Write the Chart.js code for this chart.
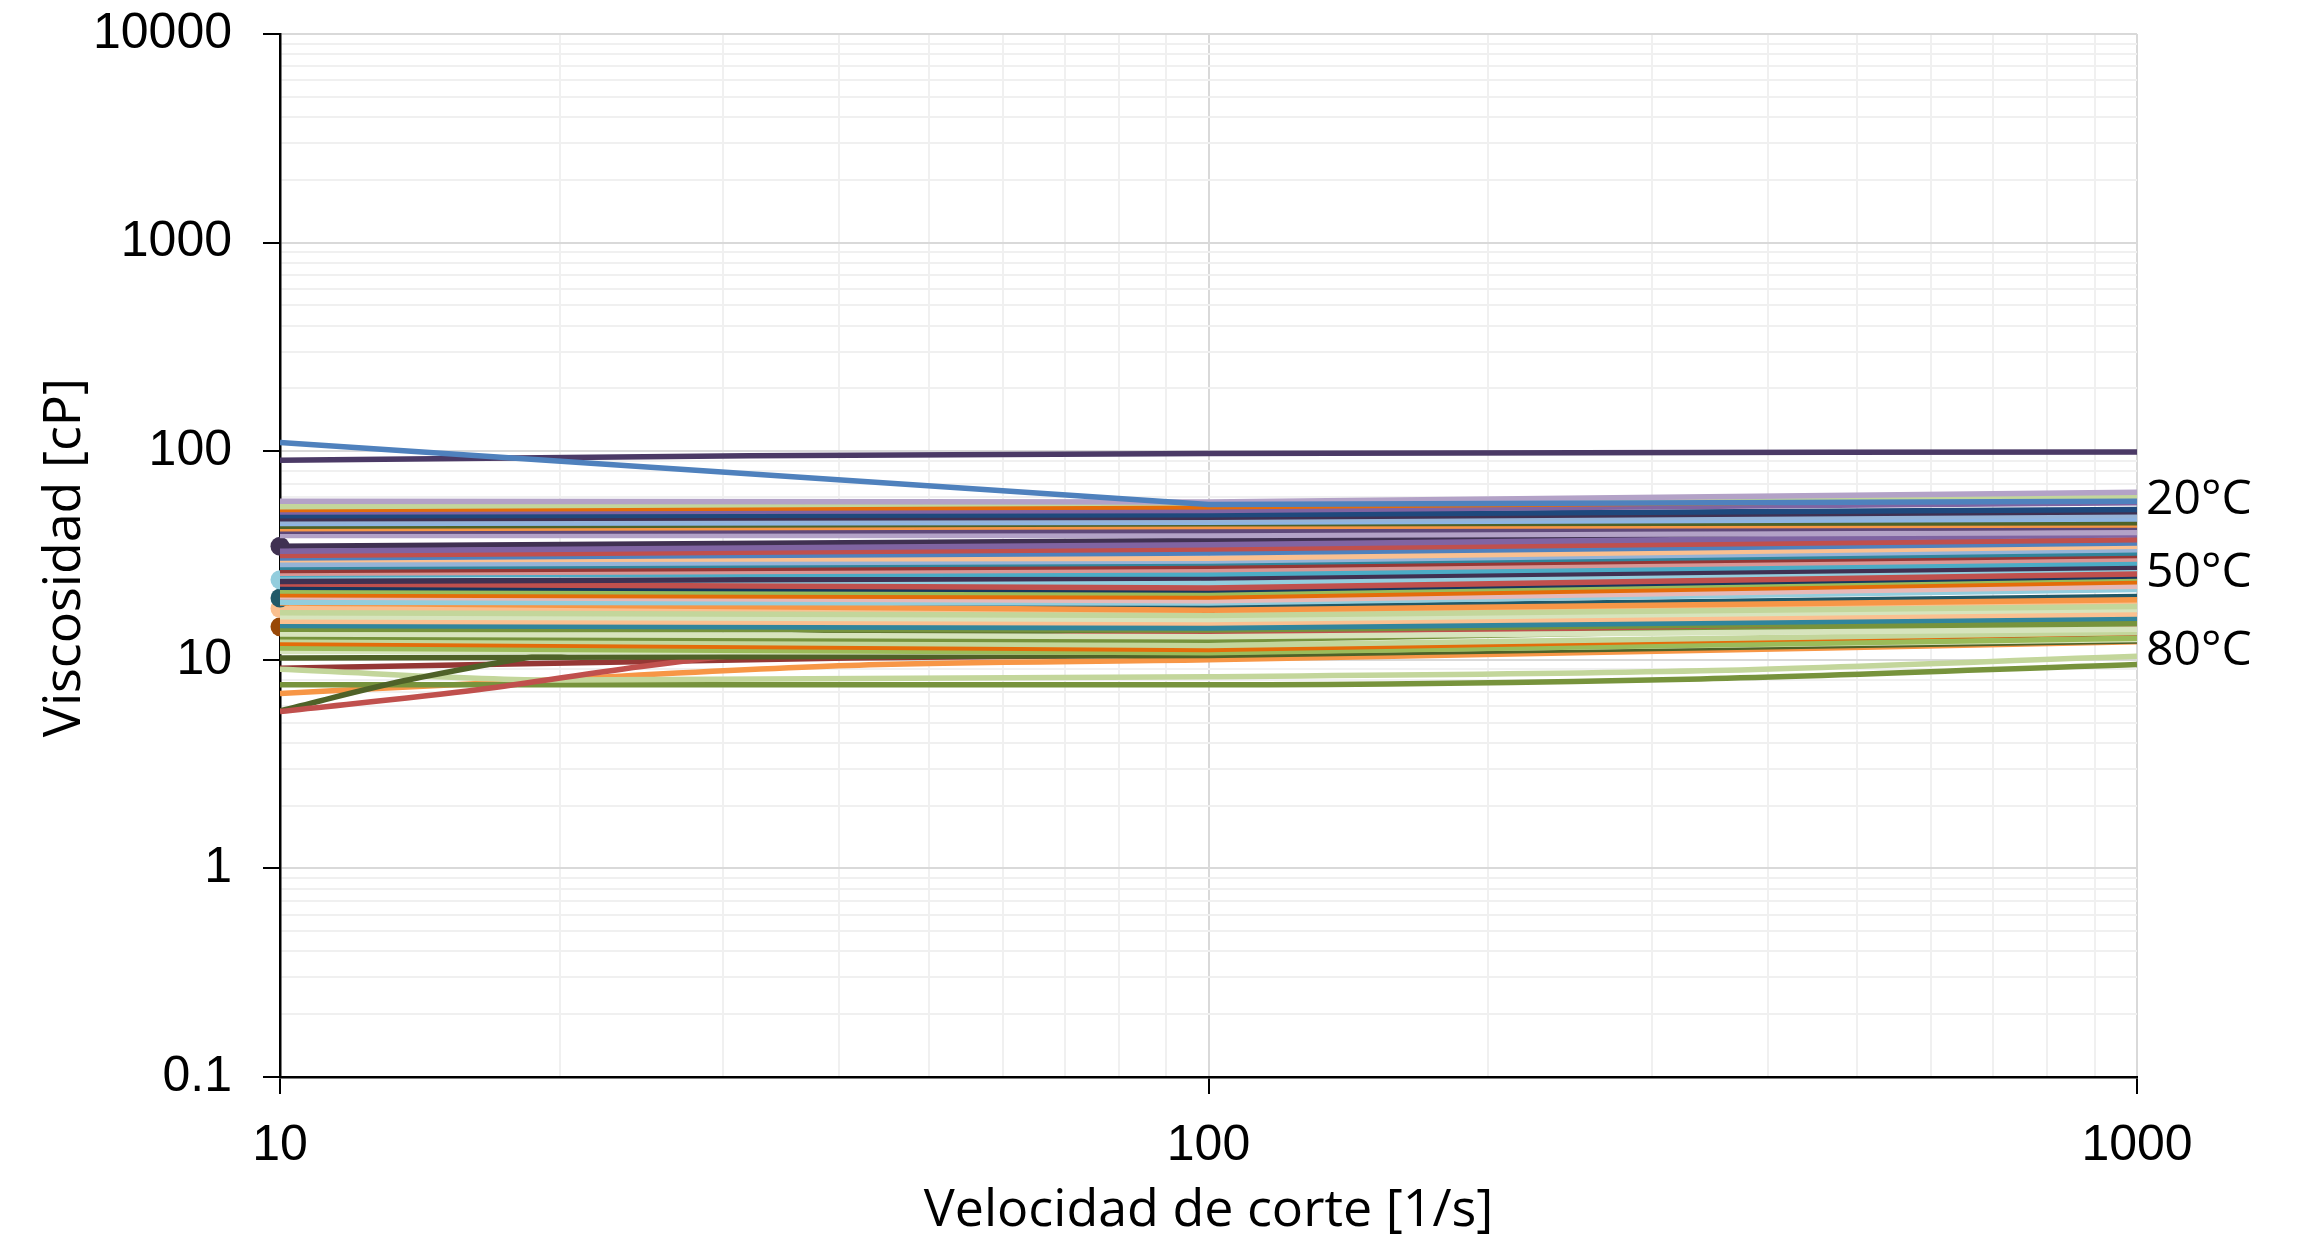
<!DOCTYPE html>
<html>
<head>
<meta charset="utf-8">
<title>Viscosidad vs velocidad de corte</title>
<script src="https://cdn.jsdelivr.net/npm/chart.js@4.4.1/dist/chart.umd.min.js"></script>
<style>
  html, body { margin: 0; padding: 0; background: #fff; }
  #wrap { width: 2306px; height: 1247px; }
</style>
</head>
<body>
<div id="wrap"><canvas id="viscChart" width="2306" height="1247"></canvas></div>
<script>
// shear rates [1/s] where the straight curves are read
const shearRates = [10, 100, 1000];

// viscosity [cP] per sample at 10, 100 and 1000 1/s
const viscAt10 = [57.5, 54.1, 52.5, 51.1, 49.0, 47.5, 46.1, 45.0, 43.7, 42.5, 41.3, 39.4,
  35.0, 33.1, 31.6, 30.8, 30.2, 28.6, 27.8, 26.8, 26.0, 25.6, 24.2, 23.75, 23.1, 22.3, 21.4,
  20.5, 20.0, 19.8, 18.9, 18.7, 17.6, 16.8, 16.1, 15.3, 14.4, 14.6, 14.0, 13.3, 12.9, 12.5,
  12.0, 11.4, 10.96, 10.2];
const viscAt100 = [57.0, 56.6, 54.1, 52.0, 49.6, 48.2, 46.9, 45.6, 44.9, 43.6, 41.7, 39.4,
  37.3, 35.6, 34.0, 32.5, 30.7, 29.8, 29.1, 28.1, 27.0, 25.8, 23.3, 24.7, 22.1, 21.6, 20.9,
  19.98, 19.2, 17.8, 18.7, 17.3, 16.9, 16.3, 15.6, 15.0, 14.6, 14.2, 13.9, 12.9, 12.4, 11.7,
  11.2, 10.8, 10.9, 10.5];
const viscAt1000 = [63.5, 60.8, 58.7, 56.6, 52.5, 51.2, 49.2, 47.3, 45.4, 44.3, 43.2, 40.8,
  41.7, 39.8, 37.6, 36.3, 35.0, 33.7, 32.5, 31.6, 30.4, 29.1, 26.8, 27.8, 25.8, 25.2, 24.7,
  23.7, 22.5, 20.1, 21.7, 19.4, 18.7, 18.0, 17.4, 16.6, 17.0, 15.8, 15.3, 14.0, 14.9, 13.5,
  13.5, 12.7, 12.5, 12.3];
const lineColors = ['#B3A2C7', '#C3D69B', '#E46C0A', '#8064A2', '#1F497D', '#403152', '#95B3D7',
  '#8EB4E3', '#4F6228', '#F79646', '#5F497A', '#B3A2C7', '#403152', '#8064A2', '#C0504D',
  '#4F81BD', '#FAC090', '#95B3D7', '#31859C', '#953735', '#D99694', '#4BACC6', '#93CDDD',
  '#403152', '#C0504D', '#17375E', '#9BBB59', '#E46C0A', '#E6B9B8', '#215968', '#93CDDD',
  '#F79646', '#FAC090', '#C3D69B', '#D7E4BD', '#FAC090', '#984807', '#31859C', '#77933C',
  '#D7E4BD', '#77933C', '#C3D69B', '#E46C0A', '#9BBB59', '#D7E4BD', '#4F6228'];
// samples plotted with round markers
const markedSamples = [12, 22, 29, 32, 36];

// curves that are not straight over the range
const blueRates = [10, 100, 1000];
const blueVisc = [110, 55.5, 57.5];
const purpleRates = [10, 32, 100, 1000];
const purpleVisc = [90.6, 95, 97.5, 99.2];
const redRates = [10, 16.4, 25, 41, 100, 1000];
const redVisc = [5.65, 7.2, 9.4, 11.8, 13.4, 14.6];
const darkOliveRates = [10, 14.1, 25, 100, 1000];
const darkOliveVisc = [5.7, 8.2, 12.1, 13.9, 15.5];
const paleGreenRates = [10, 20, 100, 339, 1000];
const paleGreenVisc = [9.0, 8.0, 8.3, 8.85, 10.4];
const oliveRates = [10, 100, 339, 1000];
const oliveVisc = [7.6, 7.6, 8.1, 9.5];
const orangeRates = [10, 16.4, 41, 100, 1000];
const orangeVisc = [6.9, 7.7, 9.4, 10.0, 12.2];
const darkRedRates = [10, 41, 100, 1000];
const darkRedVisc = [9.1, 10.2, 10.6, 13.0];

const yTickLabels = ['0.1', '1', '10', '100', '1000', '10000'];
const xTickLabels = ['10', '100', '1000'];
const tempLabels = ['20°C', '50°C', '80°C'];
const xTitle = 'Velocidad de corte [1/s]';
const yTitle = 'Viscosidad [cP]';

const datasets = [];

function addCurve(rates, visc, color, extra) {
  datasets.push(Object.assign({
    data: rates.map((r, i) => ({ x: r, y: visc[i] })),
    borderColor: color,
    backgroundColor: color,
    borderWidth: 5.5,
    pointRadius: 0,
    pointHoverRadius: 0,
    tension: 0,
    fill: false
  }, extra || {}));
}

const smooth = { cubicInterpolationMode: 'monotone' };

addCurve(blueRates, blueVisc, '#4F81BD');
addCurve(purpleRates, purpleVisc, '#4B3A66', smooth);

viscAt10.forEach((v, i) => {
  const vals = [v, viscAt100[i], viscAt1000[i]];
  if (markedSamples.includes(i)) {
    addCurve(shearRates, vals, lineColors[i], {
      pointRadius: [9.5, 8, 0], pointBorderWidth: 0, order: 1, clip: false
    });
  } else {
    addCurve(shearRates, vals, lineColors[i]);
  }
});

addCurve(redRates, redVisc, '#C0504D', smooth);
addCurve(darkOliveRates, darkOliveVisc, '#4F6228', smooth);
addCurve(paleGreenRates, paleGreenVisc, '#C3D69B', smooth);
addCurve(oliveRates, oliveVisc, '#77933C', smooth);
addCurve(orangeRates, orangeVisc, '#F79646', smooth);
addCurve(darkRedRates, darkRedVisc, '#953735', smooth);

// grid at 1..9 x 10^n
function logGrid(lo, hi) {
  const out = [];
  for (let e = lo; e < hi; e++) {
    for (let m = 1; m < 10; m++) out.push(Number((m * Math.pow(10, e)).toPrecision(6)));
  }
  out.push(Math.pow(10, hi));
  return out;
}
const isDecade = v => Math.abs(Math.log10(v) - Math.round(Math.log10(v))) < 1e-9;

const yGrid = logGrid(-1, 4);
const xGrid = logGrid(1, 3);

const tickFont = { family: '"Liberation Sans", Arial, sans-serif', size: 50 };

const axisText = {
  id: 'axisText',
  afterDraw(chart) {
    const { ctx, chartArea } = chart;
    ctx.save();
    ctx.fillStyle = '#000';
    ctx.font = '52px "Open Sans", sans-serif';
    ctx.textBaseline = 'alphabetic';
    ctx.textAlign = 'center';
    ctx.fillText(xTitle, (chartArea.left + chartArea.right) / 2, 1226);

    ctx.save();
    ctx.translate(80, (chartArea.top + chartArea.bottom) / 2 + 2);
    ctx.rotate(-Math.PI / 2);
    ctx.fillText(yTitle, 0, 0);
    ctx.restore();

    // temperature groups on the right side
    const baselines = [514, 587, 665];
    ctx.font = '48px "Open Sans", sans-serif';
    ctx.textAlign = 'left';
    tempLabels.forEach((t, i) => ctx.fillText(t, chartArea.right + 9, baselines[i]));
    ctx.restore();
  }
};

new Chart(document.getElementById('viscChart'), {
  type: 'line',
  data: { datasets },
  options: {
    responsive: false,
    devicePixelRatio: 1,
    animation: false,
    events: [],
    layout: { padding: { top: 34, right: 169, bottom: 0, left: 0 } },
    plugins: { legend: { display: false }, tooltip: { enabled: false } },
    scales: {
      x: {
        type: 'logarithmic',
        min: 10,
        max: 1000,
        afterBuildTicks: s => { s.ticks = xGrid.map(v => ({ value: v })); },
        afterFit: s => { s.height = 170; s.paddingLeft = 0; s.paddingRight = 0; },
        ticks: {
          autoSkip: false,
          maxRotation: 0,
          padding: 22,
          color: '#000',
          font: tickFont,
          callback: v => isDecade(v) ? xTickLabels[Math.round(Math.log10(v)) - 1] : ''
        },
        grid: {
          color: c => isDecade(c.tick.value) ? '#D9D9D9' : '#F0F0F0',
          lineWidth: 2,
          tickLength: 17,
          tickWidth: 2,
          tickColor: c => isDecade(c.tick.value) ? '#000' : 'rgba(0,0,0,0)'
        },
        border: { color: '#000', width: 2.5 }
      },
      y: {
        type: 'logarithmic',
        min: 0.1,
        max: 10000,
        afterBuildTicks: s => { s.ticks = yGrid.map(v => ({ value: v })); },
        afterFit: s => { s.width = 280; s.paddingTop = 0; s.paddingBottom = 0; },
        ticks: {
          autoSkip: false,
          padding: 31,
          color: '#000',
          font: tickFont,
          callback: v => isDecade(v) ? yTickLabels[Math.round(Math.log10(v)) + 1] : ''
        },
        grid: {
          color: c => isDecade(c.tick.value) ? '#D9D9D9' : '#F0F0F0',
          lineWidth: 2,
          tickLength: 17,
          tickWidth: 2,
          tickColor: c => isDecade(c.tick.value) ? '#000' : 'rgba(0,0,0,0)'
        },
        border: { color: '#000', width: 2.5 }
      }
    }
  },
  plugins: [axisText]
});
</script>
</body>
</html>
